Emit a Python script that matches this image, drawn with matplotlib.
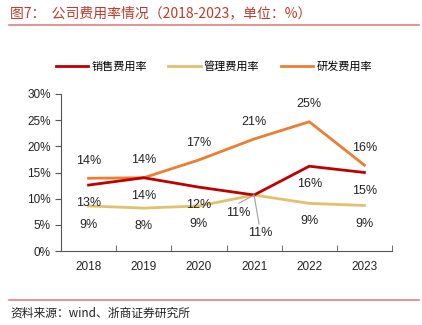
# 公司费用率情况 (2018-2023) line chart, recreated from the report figure.

import numpy as np
import matplotlib
matplotlib.use('Agg')
import matplotlib.pyplot as plt
from matplotlib.ticker import PercentFormatter, FixedLocator

plt.rcParams['font.family'] = ['Liberation Sans', 'Noto Sans CJK SC', 'DejaVu Sans']
cjk = ['Noto Sans CJK SC', 'DejaVu Sans']

years = ['2018', '2019', '2020', '2021', '2022', '2023']
sales = [12.6, 14.0, 12.2, 10.7, 16.2, 15.0]     # 销售费用率
admin = [8.6, 8.2, 8.6, 10.7, 9.1, 8.7]          # 管理费用率
rnd = [13.9, 14.0, 17.4, 21.4, 24.7, 16.4]       # 研发费用率

red, tan, orange = '#C00000', '#E2C06E', '#ED7D31'

fig = plt.figure(figsize=(4.22, 3.25), dpi=100)
ax = fig.add_axes([61 / 422, 1 - 251 / 325, 331 / 422, 157 / 325])
x = np.arange(len(years))

ax.plot(x, sales, color=red, lw=2.0, label='销售费用率', zorder=3)
ax.plot(x, admin, color=tan, lw=2.0, label='管理费用率', zorder=2)
ax.plot(x, rnd, color=orange, lw=2.0, label='研发费用率', zorder=2)

def put(xi, v, dx, dy):
    ax.annotate(f'{v:.0f}%', (xi, v), xytext=(dx, dy), textcoords='offset points',
                ha='center', va='center', fontsize=9, color='#222222')

for i, v in enumerate(rnd):
    put(i, v, 0, 12.5)
for i, v in enumerate(sales):
    if i != 3:
        put(i, v, 0, -13)
for i, v in enumerate(admin):
    if i != 3:
        put(i, v, 0, -14 if i == 0 else -13)

# the two 2021 labels sit off to the side with grey leader lines
for v, lab, end in [(sales[3], (-11.5, -13), (-11, -6)), (admin[3], (4.3, -27.4), (3.6, -21))]:
    put(3, v, *lab)
    ax.annotate('', (3, v), xytext=end, textcoords='offset points',
                arrowprops=dict(arrowstyle='-', color='#A0A0A0', lw=0.8,
                                shrinkA=0, shrinkB=0))

ax.set_xlim(-0.5, 5.5)
ax.set_ylim(0, 30)
ax.yaxis.set_major_locator(FixedLocator(np.arange(0, 31, 5)))
ax.yaxis.set_major_formatter(PercentFormatter(decimals=0))
ax.set_xticks(x)
ax.set_xticklabels(years)
ax.set_xticks(np.arange(-0.5, 6, 1), minor=True)
ax.tick_params(axis='x', which='major', length=0, pad=7, labelsize=8.5, colors='#222222')
ax.tick_params(axis='x', which='minor', length=4, direction='in', color='#555555')
ax.tick_params(axis='y', length=4, direction='out', labelsize=8.5, colors='#222222')
ax.tick_params(axis='y', color='#555555')
for s in ['top', 'right']:
    ax.spines[s].set_visible(False)
for s in ['left', 'bottom']:
    ax.spines[s].set_color('#555555')
    ax.spines[s].set_linewidth(0.8)

fig.legend(loc='center left', bbox_to_anchor=(56 / 422, 1 - 66 / 325), ncol=3, frameon=False,
           prop={'family': cjk, 'size': 8}, handlelength=2.9, handletextpad=0.3,
           columnspacing=1.9, borderpad=0, borderaxespad=0)

fig.text(10 / 422, 1 - 13 / 325, '图7：  公司费用率情况（2018-2023，单位：%）', color='#C0392B',
         fontsize=10, family=cjk, ha='left', va='center')
fig.add_artist(plt.Line2D([9 / 422, 419 / 422], [1 - 25 / 325] * 2, color='#E08080', lw=1.2))
fig.add_artist(plt.Line2D([9 / 422, 419 / 422], [1 - 300 / 325] * 2, color='#E08080', lw=1.2))
fig.text(10 / 422, 1 - 313 / 325, '资料来源：wind、浙商证券研究所', color='#222222',
         fontsize=8.5, family=cjk, ha='left', va='center')

fig.savefig('out.png', dpi=100)
